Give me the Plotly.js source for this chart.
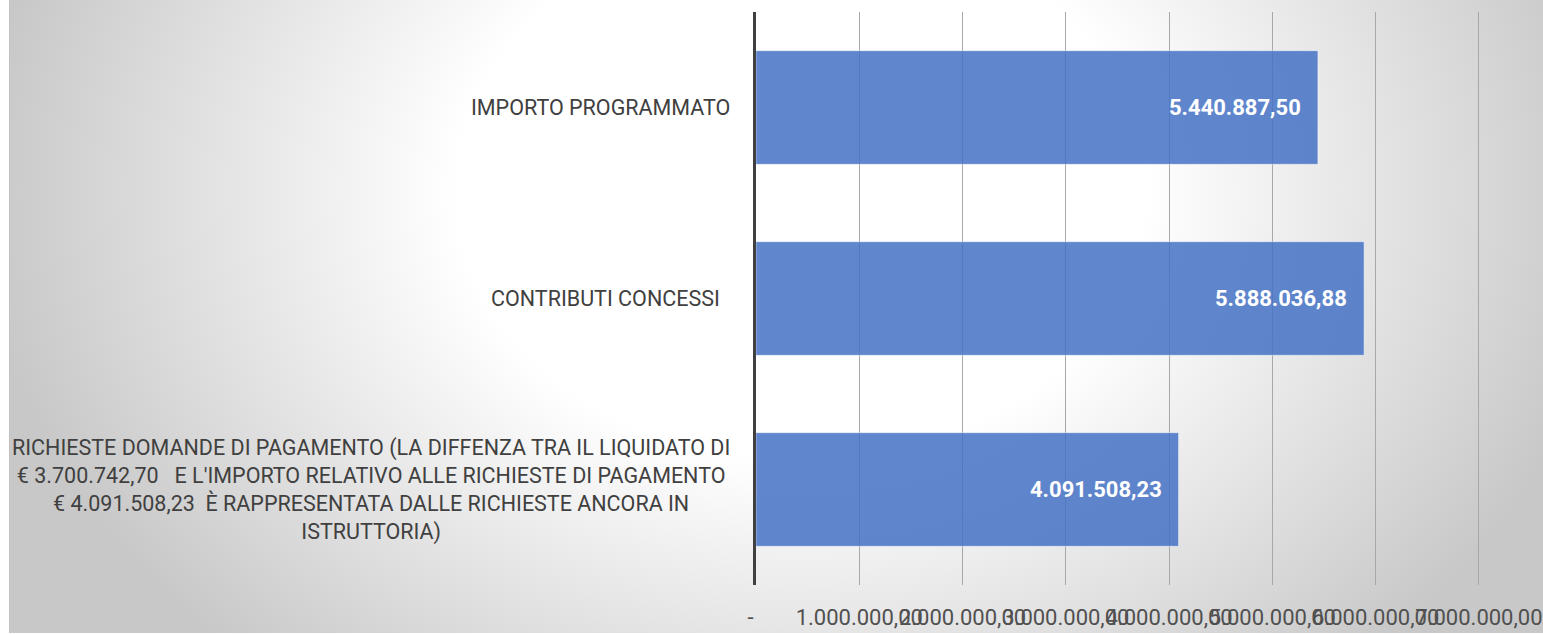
<!DOCTYPE html>
<html>
<head>
<meta charset="utf-8">
<script src="https://cdn.plot.ly/plotly-3.0.1.min.js"></script>
<style>
  html, body { margin: 0; padding: 0; background: #ffffff; }
  #chart {
    position: absolute; left: 9px; top: 0;
    width: 1534px; height: 633px;
    background: radial-gradient(ellipse 820px 640px at 791px 190px, #ffffff 0%, #ffffff 42%, #c8c8c8 100%);
    border-left: 1px solid #c2c2c2;
    box-sizing: border-box;
  }
</style>
</head>
<body>
<div id="chart"></div>
<script>
// ---- data ----
const categories = [
  "IMPORTO PROGRAMMATO",
  "CONTRIBUTI CONCESSI\u00a0\u00a0",
  "RICHIESTE DOMANDE DI PAGAMENTO (LA DIFFENZA TRA IL LIQUIDATO DI<br>€ 3.700.742,70\u00a0\u00a0\u00a0E L'IMPORTO RELATIVO ALLE RICHIESTE DI PAGAMENTO<br>€ 4.091.508,23\u00a0\u00a0È RAPPRESENTATA DALLE RICHIESTE ANCORA IN<br>ISTRUTTORIA)"
];
const values = [5440887.50, 5888036.88, 4091508.23];
const valueLabels = ["5.440.887,50", "5.888.036,88", "4.091.508,23"];
const tickValues = [0, 1000000, 2000000, 3000000, 4000000, 5000000, 6000000, 7000000];
const tickLabels = ["-\u00a0\u00a0", "1.000.000,00", "2.000.000,00", "3.000.000,00", "4.000.000,00", "5.000.000,00", "6.000.000,00", "7.000.000,00"];

// ---- chart ----
const FONT = "Roboto, 'Liberation Sans', sans-serif";
const ids = categories.map((c, i) => "c" + i);

const trace = {
  type: "bar",
  orientation: "h",
  x: values,
  y: ids,
  marker: {
    color: "rgba(68,114,196,0.85)",
    line: { color: "rgba(255,255,255,0.45)", width: 1 }
  },
  hoverinfo: "none"
};

const annotations = [];
categories.forEach((c, i) => {
  annotations.push({
    xref: "paper", yref: "y",
    x: 0, y: ids[i],
    xanchor: "right", yanchor: "middle",
    xshift: -24,
    text: c,
    showarrow: false,
    align: "center",
    font: { family: FONT, size: 21.5, color: "#404040" }
  });
  annotations.push({
    xref: "x", yref: "y",
    x: values[i], y: ids[i],
    xanchor: "right", yanchor: "middle",
    xshift: -15,
    text: "<b>" + valueLabels[i] + "</b>",
    showarrow: false,
    font: { family: FONT, size: 22, color: "#ffffff" }
  });
});

const layout = {
  width: 1534,
  height: 633,
  margin: { l: 746, r: 63, t: 12, b: 48, pad: 0 },
  paper_bgcolor: "rgba(0,0,0,0)",
  plot_bgcolor: "rgba(0,0,0,0)",
  showlegend: false,
  bargap: 0.405,
  xaxis: {
    range: [0, 7020000],
    tickvals: tickValues,
    ticktext: tickLabels,
    tickangle: 0,
    showgrid: true,
    gridcolor: "#a8a8a8",
    gridwidth: 1,
    zeroline: false,
    showline: false,
    ticks: "",
    ticklabelstandoff: 17,
    tickfont: { family: FONT, size: 22, color: "#505050" },
    fixedrange: true
  },
  yaxis: {
    type: "category",
    categoryorder: "array",
    categoryarray: ids,
    autorange: "reversed",
    showticklabels: false,
    showgrid: false,
    zeroline: false,
    showline: true,
    linecolor: "#404040",
    linewidth: 3,
    ticks: "",
    fixedrange: true
  },
  annotations: annotations
};

Plotly.newPlot("chart", [trace], layout, { displayModeBar: false, staticPlot: true });
</script>
</body>
</html>
